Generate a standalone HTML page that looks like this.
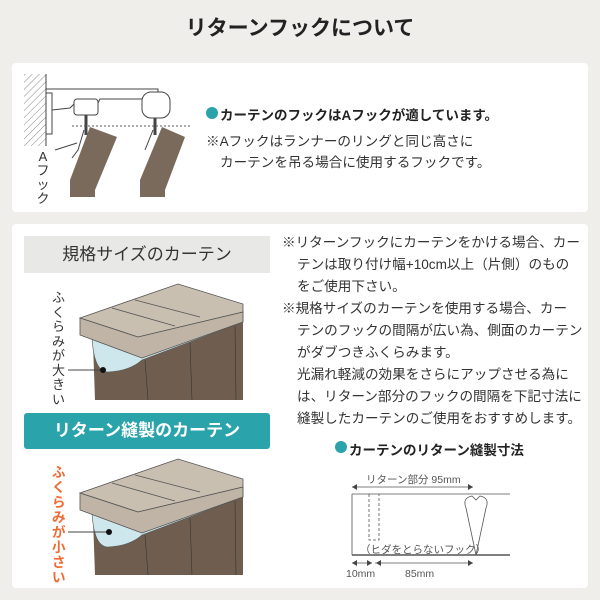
<!DOCTYPE html>
<html><head><meta charset="utf-8"><style>
body{margin:0;width:600px;height:600px;background:#efeeea;font-family:"Liberation Sans","Noto Sans CJK JP",sans-serif;position:relative;overflow:hidden;color:#333}
.a{position:absolute;white-space:nowrap}
.p{position:absolute;background:#fff;border-radius:4px}
.t{font-size:13.6px;line-height:22px}
</style></head><body>
<div class="a" style="left:0;width:600px;top:12px;text-align:center;font-size:21px;font-weight:bold;color:#222">リターンフックについて</div>
<div class="p" style="left:12px;top:63px;width:576px;height:149px"></div>
<div class="p" style="left:12px;top:224px;width:576px;height:364px"></div>

<svg class="a" style="left:0;top:0" width="600" height="600">
<defs><pattern id="h" width="5" height="5" patternUnits="userSpaceOnUse" patternTransform="rotate(45)"><line x1="0" y1="0" x2="0" y2="5" stroke="#888" stroke-width="1"/></pattern></defs>
<rect x="24" y="74" width="22" height="72" fill="url(#h)"/>
<line x1="46" y1="74" x2="46" y2="146" stroke="#444"/>
<path d="M46 89 L158 89 L158 96 M46 93 L52 93 L52 134 L46 134 M52 110 L70 108 L75 103 L98 103 L100 99 L150 99" fill="none" stroke="#444"/>
<rect x="74" y="99" width="24" height="16" rx="3" fill="#fff" stroke="#444"/>
<rect x="142" y="92" width="28" height="26" rx="9" fill="#fff" stroke="#444"/>
<path d="M86 115 L86 135 M155 118 L155 135" stroke="#444" stroke-width="3"/>
<line x1="72" y1="126" x2="190" y2="126" stroke="#555" stroke-dasharray="2,2"/>
<path d="M90 127 L117 137 L95 190 L95 197 L70 197 L70 180 Z" fill="#7a6a5c"/>
<path d="M162 127 L185 137 L165 190 L165 197 L140 197 L140 180 Z" fill="#7a6a5c"/>
<path d="M84 130 L78 150 L72 158 M153 130 L145 150" fill="none" stroke="#444"/>
<line x1="55" y1="150" x2="77" y2="143" stroke="#444"/>
<circle cx="212" cy="113" r="6" fill="#2ba3ab"/>
<g id="c1">
<path d="M93 343 L95 400 L243 400 L243 320 Z" fill="#6f5e50"/>
<path d="M92 338 Q94 372 108 372 Q130 371 142 360 L243 322 L243 312 Z" fill="#cde7ec" stroke="#555" stroke-width=".6"/>
<path d="M80 318 L178 284 L243 304 L243 312 L138 337 Z" fill="#c9bfb1" stroke="#555" stroke-width=".8"/>
<path d="M80 318 L138 337 L243 312 L243 322 L142 358 L80 335 Z" fill="#bfb4a5" stroke="#555" stroke-width=".8"/>
<path d="M112 308 L175 326 M135 300 L200 317" fill="none" stroke="#555" stroke-width=".8"/>
<path d="M145 360 L148 400 M190 343 L192 400 M235 326 L236 400" stroke="#333" stroke-width=".6"/>
</g>
<line x1="68" y1="370" x2="102" y2="370" stroke="#444"/><circle cx="103" cy="370" r="3" fill="#111"/>
<use href="#c1" y="175"/>
<line x1="68" y1="532" x2="108" y2="532" stroke="#444"/><circle cx="109" cy="532" r="3" fill="#111"/>
<circle cx="341" cy="447" r="6" fill="#2ba3ab"/>
<g stroke="#555" fill="none" stroke-width=".8">
<line x1="352" y1="494" x2="510" y2="494"/><line x1="352" y1="494" x2="352" y2="555"/>
<line x1="352" y1="555" x2="510" y2="555" stroke-width="1.6"/>
<line x1="352" y1="487" x2="473" y2="487"/>
<path d="M369 494 V540 H379 V494" stroke-dasharray="3,2"/>
<path d="M476 555 L466 508 Q462 498 472 496 L476 500 L480 496 Q490 498 486 508 Z"/>
<line x1="352" y1="563" x2="372" y2="563"/><line x1="375" y1="563" x2="473" y2="563"/>
</g>
<g fill="#444"><path d="M352 487 l5 -3 v6z M473 487 l-5 -3 v6z M352 563 l5 -3 v6z M372 563 l-5 -3 v6z M376 563 l5 -3 v6z M473 563 l-5 -3 v6z"/></g>
</svg>

<div class="a" style="left:36px;top:150px;width:14px;font-size:13px;line-height:14px;text-align:center;white-space:normal">A<br>フ<br>ッ<br>ク</div>
<div class="a" style="left:220px;top:104px;font-size:13.5px;font-weight:bold;color:#222">カーテンのフックはAフックが適しています。</div>
<div class="a t" style="left:206px;top:131px">※Aフックはランナーのリングと同じ高さに</div>
<div class="a t" style="left:220px;top:152px">カーテンを吊る場合に使用するフックです。</div>

<div class="a" style="left:24px;top:236px;width:246px;height:37px;background:#e8e8e6;font-size:17px;line-height:37px;text-align:center;color:#333">規格サイズのカーテン</div>
<div class="a" style="left:24px;top:413px;width:246px;height:36px;background:#2ba3ab;border-radius:3px;font-size:17px;line-height:36px;text-align:center;color:#fff;font-weight:bold">リターン縫製のカーテン</div>
<div class="a" style="left:52px;top:291px;width:14px;font-size:13px;line-height:14.5px;white-space:normal;color:#333">ふくらみが大きい</div>
<div class="a" style="left:52px;top:465px;width:14px;font-size:13.5px;line-height:15px;white-space:normal;color:#f06a34;font-weight:bold">ふくらみが小さい</div>

<div class="a t" style="left:282px;top:232px">※リターンフックにカーテンをかける場合、カー</div>
<div class="a t" style="left:297px;top:254px">テンは取り付け幅+10cm以上（片側）のもの</div>
<div class="a t" style="left:297px;top:276px">をご使用下さい。</div>
<div class="a t" style="left:282px;top:298px">※規格サイズのカーテンを使用する場合、カー</div>
<div class="a t" style="left:297px;top:320px">テンのフックの間隔が広い為、側面のカーテン</div>
<div class="a t" style="left:297px;top:342px">がダブつきふくらみます。</div>
<div class="a t" style="left:297px;top:364px">光漏れ軽減の効果をさらにアップさせる為に</div>
<div class="a t" style="left:297px;top:386px">は、リターン部分のフックの間隔を下記寸法に</div>
<div class="a t" style="left:297px;top:408px">縫製したカーテンのご使用をおすすめします。</div>
<div class="a" style="left:349px;top:439px;font-size:13.5px;font-weight:bold;color:#222">カーテンのリターン縫製寸法</div>
<div class="a" style="left:366px;top:472px;font-size:10.5px;color:#555">リターン部分 95mm</div>
<div class="a" style="left:360px;top:542px;font-size:10.5px;color:#555">（ヒダをとらないフック）</div>
<div class="a" style="left:346px;top:568px;font-size:10.5px;color:#555">10mm</div>
<div class="a" style="left:405px;top:568px;font-size:10.5px;color:#555">85mm</div>
</body></html>
